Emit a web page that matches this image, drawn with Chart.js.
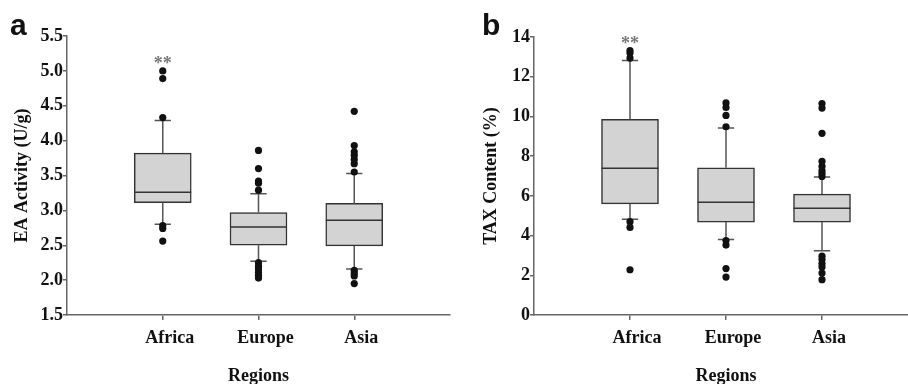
<!DOCTYPE html>
<html>
<head>
<meta charset="utf-8">
<script src="https://cdn.jsdelivr.net/npm/chart.js@4"></script>
<style>
html, body { margin: 0; padding: 0; width: 908px; height: 384px; overflow: hidden; background: #fff; }
.panel { position: absolute; top: 0; height: 384px; }
.letter { position: absolute; font: bold 30px "Liberation Sans", Arial, sans-serif; line-height: 1; color: #111; z-index: 2; }
</style>
</head>
<body>
<div class="panel" style="left:0;width:454px"><canvas id="chartA"></canvas></div>
<div class="panel" style="left:454px;width:468px"><canvas id="chartB"></canvas></div>
<div class="letter" style="left:10px;top:10px">a</div>
<div class="letter" style="left:482px;top:10px">b</div>
<script>
const regions = ["Africa", "Europe", "Asia"];

// a - EA activity (U/g)
const eaQ1 = [3.11, 2.50, 2.49];
const eaMedian = [3.26, 2.76, 2.86];
const eaQ3 = [3.82, 2.97, 3.10];
const eaLow = [2.80, 2.27, 2.16];
const eaHigh = [4.29, 3.24, 3.53];
const eaOutliers = [
    [5.00, 4.89, 4.33, 2.78, 2.74, 2.56],
    [3.86, 3.60, 3.42, 3.39, 3.29, 2.25, 2.20, 2.16, 2.11, 2.07, 2.03],
    [4.42, 3.93, 3.84, 3.79, 3.73, 3.67, 3.55, 2.14, 2.10, 2.06, 1.95],
];
const eaTicks = [1.5, 2.0, 2.5, 3.0, 3.5, 4.0, 4.5, 5.0, 5.5];

// b - TAX content (%)
const taxQ1 = [5.60, 4.68, 4.68];
const taxMedian = [7.39, 5.68, 5.38];
const taxQ3 = [9.86, 7.41, 6.09];
const taxLow = [4.82, 3.80, 3.23];
const taxHigh = [12.82, 9.42, 6.95];
const taxOutliers = [
    [13.32, 13.19, 12.94, 4.70, 4.41, 2.28],
    [10.68, 10.45, 10.05, 9.48, 3.75, 3.52, 2.34, 1.91],
    [10.65, 10.42, 9.15, 7.74, 7.49, 7.27, 7.12, 6.98, 2.96, 2.79, 2.59, 2.42, 2.11, 1.78],
];
const taxTicks = [0, 2, 4, 6, 8, 10, 12, 14];

const sigMarks = ["**", "", ""];

const serif = { family: '"Liberation Serif", "Times New Roman", serif', size: 18, weight: "bold" };
const axisColor = "#666";

// draws the significance stars above the highest point of a group
const sigPlugin = {
    id: "sig",
    afterDatasetsDraw(chart, args, opts) {
        const { ctx, scales: { x, y } } = chart;
        ctx.save();
        ctx.font = 'bold 18px "Liberation Serif", serif';
        ctx.fillStyle = "#777";
        ctx.textAlign = "center";
        ctx.textBaseline = "alphabetic";
        sigMarks.forEach((m, i) => {
            if (!m) return;
            const top = Math.max(opts.high[i], ...opts.outliers[i]);
            ctx.fillText(m, x.getPixelForValue(i + 1), y.getPixelForValue(top) - 2);
        });
        ctx.restore();
    },
};

function makeChart(id, d) {
    const half = 0.297, cap = 0.085;
    const boxes = [], whiskers = [], medians = [], dots = [];
    regions.forEach((r, i) => {
        const x = i + 1;
        boxes.push({ x, y: [d.q1[i], d.q3[i]] });
        whiskers.push(
            { x, y: d.q3[i] }, { x, y: d.high[i] }, { x, y: null },
            { x, y: d.q1[i] }, { x, y: d.low[i] }, { x, y: null },
            { x: x - cap, y: d.high[i] }, { x: x + cap, y: d.high[i] }, { x, y: null },
            { x: x - cap, y: d.low[i] }, { x: x + cap, y: d.low[i] }, { x, y: null }
        );
        medians.push({ x: x - half, y: d.median[i] }, { x: x + half, y: d.median[i] }, { x, y: null });
        d.outliers[i].forEach((v) => dots.push({ x, y: v }));
    });

    return new Chart(document.getElementById(id), {
        type: "bar",
        data: {
            datasets: [
                {
                    type: "scatter",
                    data: dots,
                    pointRadius: 3.6,
                    pointBackgroundColor: "#111",
                    pointBorderWidth: 0,
                    order: 0,
                },
                {
                    type: "line",
                    data: medians,
                    borderColor: "#333",
                    borderWidth: 1.5,
                    pointRadius: 0,
                    spanGaps: false,
                    order: 1,
                },
                {
                    type: "line",
                    data: whiskers,
                    borderColor: "#555",
                    borderWidth: 1.5,
                    pointRadius: 0,
                    spanGaps: false,
                    order: 2,
                },
                {
                    data: boxes,
                    backgroundColor: "#d3d3d3",
                    borderColor: "#333",
                    borderWidth: 1.5,
                    borderSkipped: false,
                    barThickness: 57,
                    order: 3,
                },
            ],
        },
        options: {
            responsive: true,
            maintainAspectRatio: false,
            animation: false,
            events: [],
            layout: { padding: { left: 0, right: 4, top: d.padTop, bottom: 0 } },
            plugins: {
                legend: { display: false },
                tooltip: { enabled: false },
                sig: { high: d.high, outliers: d.outliers },
            },
            scales: {
                x: {
                    type: "linear",
                    min: 0,
                    max: 4,
                    offset: false,
                    afterBuildTicks: (s) => { s.ticks = regions.map((r, i) => ({ value: i + 1 })); },
                    afterFit: (s) => { s.height = 69; },
                    ticks: {
                        callback: (v) => regions[v - 1],
                        font: serif,
                        color: "#111",
                        padding: 8,
                        labelOffset: 7,
                        autoSkip: false,
                        maxRotation: 0,
                    },
                    grid: { drawOnChartArea: false, offset: false, tickLength: 5, color: axisColor, lineWidth: 1.5 },
                    border: { display: true, color: axisColor, width: 1.5 },
                    title: { display: true, text: "Regions", font: serif, color: "#111", padding: { top: 0, bottom: -3 } },
                },
                y: {
                    min: d.ticks[0],
                    max: d.ticks[d.ticks.length - 1],
                    afterBuildTicks: (s) => { s.ticks = d.ticks.map((v) => ({ value: v })); },
                    afterFit: (s) => { s.width = d.axisWidth; },
                    ticks: {
                        callback: (v) => v.toFixed(d.decimals),
                        font: serif,
                        color: "#111",
                        padding: 0,
                    },
                    grid: { drawOnChartArea: false, tickLength: 4, color: axisColor, lineWidth: 1.5 },
                    border: { display: true, color: axisColor, width: 1.5 },
                    title: { display: true, text: d.title, font: serif, color: "#111", padding: { top: d.titlePad, bottom: 0 } },
                },
            },
        },
        plugins: [sigPlugin],
    });
}

makeChart("chartA", {
    q1: eaQ1, median: eaMedian, q3: eaQ3, low: eaLow, high: eaHigh, outliers: eaOutliers,
    ticks: eaTicks, decimals: 1, title: "EA Activity (U/g)",
    axisWidth: 67, titlePad: 12, padTop: 36,
});

makeChart("chartB", {
    q1: taxQ1, median: taxMedian, q3: taxQ3, low: taxLow, high: taxHigh, outliers: taxOutliers,
    ticks: taxTicks, decimals: 0, title: "TAX Content (%)",
    axisWidth: 80, titlePad: 27, padTop: 37,
});
</script>
</body>
</html>
